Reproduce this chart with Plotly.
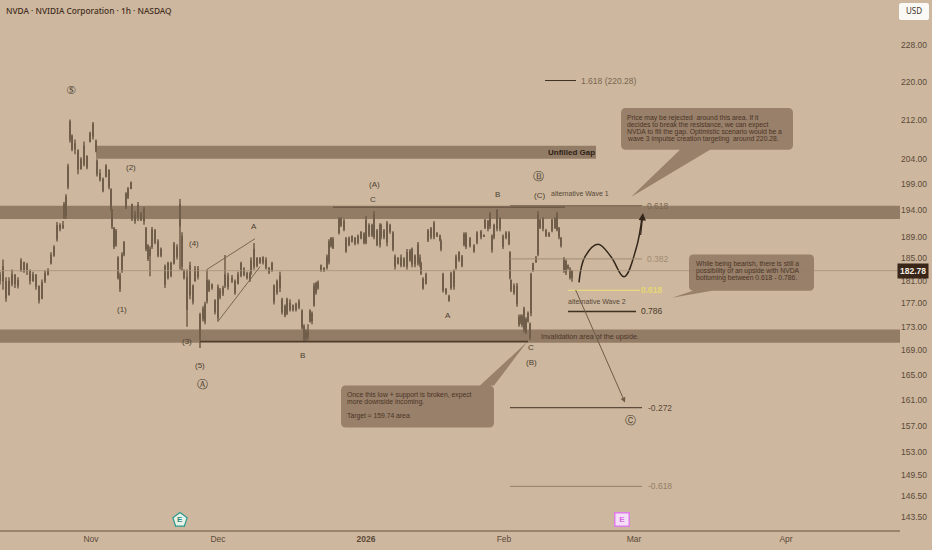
import math
import plotly.graph_objects as go

# NVDA 1h candles. bar_pos is the session position along the time axis
bar_pos = [0, 3, 6, 9, 12, 15, 18, 21, 24, 27, 30, 33, 36, 39, 42, 45, 48, 51, 54, 57, 60, 63, 64, 66, 68, 70, 72, 75, 78, 81,
           84, 87, 90, 93, 96, 97, 100, 103, 106, 109, 111, 112, 114, 116, 118, 120, 122, 124, 126, 128, 131, 132, 135, 138, 141, 144, 146, 148,
           150, 152, 155, 158, 161, 165, 168, 171, 174, 177, 180, 182, 184, 187, 190, 193, 195, 198,
           200, 203, 205, 207, 209, 212, 215, 218, 220, 223, 225, 228, 232, 235, 238, 241, 244, 247, 250, 251, 254, 257, 260, 263, 266, 269, 272,
           274, 277, 280, 282, 285, 287, 290, 293, 296, 299, 302, 304, 306, 308, 310, 312, 314, 316, 318, 321, 324, 327, 329, 331, 333,
           339, 341, 344, 346, 349, 352, 355, 358, 361, 364, 366, 369, 372, 374, 377, 380, 381, 384, 387, 390, 393, 395, 398,
           401, 404, 407, 410, 412, 415, 418, 420, 421, 423, 426, 428, 431, 434, 437, 440, 441, 443, 446, 449, 451, 454, 456, 459, 462, 464, 466,
           470, 474, 477, 481, 484, 485, 488, 490, 492, 494, 497, 500, 503, 506, 509, 510, 511, 514, 517, 519, 521, 522, 524, 526, 528,
           530, 531, 533, 536, 538, 540, 543, 546, 549, 552, 555, 557, 559, 561, 564, 566, 568, 570, 572]
opens = [182, 181, 180.8, 178.5, 180.5, 182, 180.2, 183, 184.2, 183, 182.6, 181, 182, 180, 178, 181, 182.2, 184.2, 185.6, 188.6, 190.5, 191, 192.6, 193, 198.5, 208, 208.5, 206, 205.5, 202,
         203, 204.4, 207.6, 208.6, 207.5, 203.5, 201, 199.9, 200.6, 201.6, 198, 194, 190.5, 187.6, 185, 181.8, 182.8, 185.8, 194.6, 196.6, 198.2, 195, 192, 192.6, 193.2, 192, 190.4, 187.2,
         185.5, 187.2, 190, 188, 185.6, 183.5, 181.6, 184, 184.2, 187, 191, 189, 182.8, 181.5, 178.5, 180, 181, 183,
         171, 174.4, 174, 177.5, 179.4, 180.2, 177.4, 174.6, 178.2, 178.8, 180.2, 181.8, 181.4, 180.8, 180.6, 182, 183, 182.2, 181.2, 182.4, 183.6, 185, 184.2, 185, 184.6, 183.2, 183,
         177.4, 179, 181.8, 177.6, 176.4, 175.4, 177, 176, 176, 176.4, 175.6, 173, 171, 172, 174, 175.2, 176.8, 179, 180.6, 183, 183.2, 183.4, 184.4, 187.4, 188.4,
         189.8, 192.2, 191.8, 188.5, 187.6, 188.2, 188.6, 188, 188.8, 189.4, 188, 191, 189.4, 189, 190, 187.6, 191, 190, 188, 191, 189.6, 185.2, 184.2,
         185, 183.8, 183.6, 186.2, 184, 185.4, 184.2, 185, 184, 181.2, 180.6, 188.4, 190.4, 189, 189.6, 189, 188, 182, 179.4, 178.2, 179.8, 182.6, 183.4, 184.8, 185.2, 187.6, 189.4,
         188.5, 187.2, 188, 189.8, 189.2, 190.8, 191.8, 191, 189, 189, 190.6, 192.2, 189, 188.9, 189.6, 186, 181, 180, 180, 174.6, 173.8, 174.6, 172.6, 174.2, 174,
         173.4, 175.4, 183, 184.4, 185.8, 192, 190.6, 190, 189.2, 190.2, 192.2, 190.4, 190.4, 188.6, 185, 182.6, 183.6, 183, 181.6]
highs = [182.6, 184.8, 181.6, 181.6, 183, 182, 181.6, 185, 184.4, 184.2, 183, 182.6, 182, 180, 181.2, 182.8, 183.2, 186.1, 187.4, 191.7, 191.5, 191.9, 195.5, 197, 203, 212, 208.9, 207.9, 205.9, 204.3,
         207.5, 204.7, 209.5, 211.5, 207.9, 203.9, 201.9, 200.3, 202.9, 201.9, 198, 194.2, 190.8, 190.4, 185.4, 182.4, 186.1, 188.2, 197.4, 198.4, 199.5, 195.2, 193.8, 195.5, 193.6, 194.6, 190.8, 187.6,
         187.2, 190.8, 190.4, 188.5, 187, 183.9, 184.4, 184.4, 188, 187.6, 196.1, 189.8, 183, 183, 184.4, 180.3, 183.6, 183.6,
         175.4, 176.5, 177.3, 183, 181.2, 180.5, 177.7, 180.3, 179.7, 180.1, 185.6, 182.4, 182, 181.2, 182.6, 184.4, 183.4, 182.6, 182.6, 185.2, 187.8, 185.2, 185.2, 185.4, 185.2, 183.4, 184.4,
         180.3, 181.2, 182.6, 178, 176.8, 178, 177.7, 176.8, 177.1, 177.7, 176, 173.4, 172.5, 173.4, 176, 175.6, 180.6, 180.8, 181, 183.9, 183.4, 185.7, 188.5, 188.9, 188.9,
         192.6, 192.6, 192.3, 188.9, 189, 189.2, 188.9, 189.4, 190, 189.8, 192.9, 191.5, 191.4, 193.8, 190.4, 191.5, 191.4, 190.4, 191.9, 191.4, 190, 185.7, 185.2,
         185.7, 185.2, 186.7, 186.7, 187, 185.7, 188, 185.7, 184.4, 181.6, 182.4, 190.4, 190.8, 191.9, 189.8, 189.4, 188.5, 182.4, 179.7, 178.5, 182.6, 183, 185.7, 186.3, 185.6, 189.8, 189.8,
         188.9, 187.6, 190, 190.2, 189.4, 192.3, 192.1, 193.6, 189.4, 191.4, 194.2, 192.6, 189.4, 190, 190, 186.3, 181.2, 180.5, 180.6, 175.1, 175.1, 175.1, 176.4, 174.6, 175.6,
         173.7, 182.4, 184.2, 185.4, 193.8, 192.3, 192.6, 190.4, 189.8, 192.3, 192.6, 193.6, 190.8, 188.9, 185.2, 184.8, 183.9, 183.4, 182.8]
lows = [180.3, 179.4, 177.3, 178.5, 180, 179.7, 179.6, 182.6, 182.4, 182, 180.3, 180.8, 179.4, 177, 177.7, 180.6, 181.9, 183.9, 185.3, 188.1, 190, 190.4, 192.3, 192.3, 198, 207.3, 205.5, 204.9, 200.9, 201.9,
        202.5, 201.9, 207.3, 207.9, 205.3, 200.5, 199.5, 197.4, 200.3, 198, 193.8, 190.4, 186.7, 187.1, 181.2, 179, 182.4, 185.4, 194.2, 196.1, 198, 191.9, 191.4, 191.9, 191.9, 191.2, 186.3, 184.5,
        181.8, 186.7, 187.6, 185.2, 185.2, 179.7, 181.2, 181.6, 183.9, 184.8, 183, 182.8, 181.2, 173, 177.7, 176.8, 180.8, 181.2,
        169.4, 173.9, 173.4, 177, 179, 179.4, 175.1, 173.9, 177.7, 178.3, 179.7, 179.4, 180.6, 178.5, 180.3, 181.6, 181.8, 181.2, 180.8, 182, 183, 183.4, 184, 183.9, 183, 182.2, 182.6,
        176.8, 178.5, 179, 175.1, 174.6, 175, 175.6, 175.6, 175.6, 176, 172.5, 170.5, 170.5, 170.8, 173.7, 173.4, 176.4, 178.5, 179.4, 182.6, 182.6, 183, 183.9, 187, 186.7,
        189.4, 190.8, 190, 186, 187.2, 187.9, 187.4, 187.6, 188.5, 187.6, 187.6, 188.9, 188.9, 188.5, 187.2, 187, 188.5, 188.5, 187.2, 189.5, 186.3, 183, 183.9,
        183.4, 183.4, 183, 184.4, 183.4, 183.4, 183.7, 183.4, 182, 179.4, 180.3, 188, 188.5, 188.5, 188.9, 188.1, 186.3, 178.9, 178.5, 177.3, 179.4, 179.4, 183, 184.4, 183.4, 187.2, 186.7,
        187, 186, 187.6, 188.5, 188.9, 190.4, 190, 190.4, 186, 188.5, 190, 190, 186.7, 188.5, 187.4, 181.2, 179, 178.5, 176.4, 173, 173.4, 172.9, 172, 171.7, 173.7,
        170.8, 174.8, 182.6, 184.2, 185.4, 190.4, 190, 188.9, 188.9, 189.8, 190.4, 190, 188.5, 187, 182.4, 182, 183, 181.2, 180.8]
closes = [181, 183.5, 178, 180.8, 182, 180.5, 181, 184.5, 183, 183.8, 181, 182, 180, 177.6, 180.6, 182.2, 182.8, 185.5, 187, 191, 191, 190.8, 195, 196.5, 202.4, 211.5, 206, 207, 202, 203.8,
          206.5, 202.4, 209, 211, 205.6, 201, 200, 197.8, 202.5, 198.5, 194.2, 191, 187.2, 190, 181.6, 179.6, 185.6, 187.8, 197, 198, 199.2, 192.4, 193, 194.8, 192.2, 194, 186.8, 185,
          186.6, 190.2, 188, 185.6, 186.6, 180.4, 184, 182, 187.6, 185.4, 195, 183.6, 181.6, 176, 183.6, 177.4, 183, 181.8,
          175, 176, 176.8, 181, 180.8, 179.8, 175.6, 179.8, 179.2, 179.6, 182, 180, 181, 179, 182, 184, 182.2, 181.6, 182, 184.6, 186.6, 183.8, 185, 184.4, 183.4, 182.6, 184,
          180, 180.8, 179.8, 175.6, 175, 177.6, 176, 176.6, 176.8, 177.2, 173, 171, 172, 171.4, 175.6, 174, 180, 180.4, 179.8, 183.6, 182.8, 185.2, 188, 188.6, 187,
          192.2, 191.2, 190.4, 186.4, 188.6, 189, 187.8, 189, 189.8, 188, 192, 189.4, 191, 193, 187.6, 191, 189, 189, 191.4, 190, 186.8, 183.6, 185,
          183.8, 184.8, 186, 184.8, 186.6, 184, 187.4, 184, 182.4, 179.8, 182, 190, 189, 191.4, 189.2, 188.4, 186.8, 179.4, 178.9, 177.6, 182.2, 180, 185.2, 186, 183.8, 189.4, 187.2,
          187.4, 186.4, 189.6, 189, 189.1, 192, 190.6, 193.2, 186.6, 191, 193.8, 190.6, 187.2, 189.6, 187.8, 181.6, 179.4, 179, 177, 173.4, 174.8, 173.4, 176, 172.2, 175.2,
          171.2, 182, 184, 185.2, 193, 190.8, 192.2, 189.3, 189.6, 192, 190.8, 193.2, 189, 187.4, 183, 184.4, 183.3, 181.6, 182.78]

# price axis
price_ticks = [228, 220, 212, 204, 199, 194, 189, 185, 181, 177, 173, 169, 165, 161, 157, 153, 149.5, 146.5, 143.5]
last_price = 182.78

# time axis
month_pos = [91, 218, 366, 504, 634, 786]
month_names = ["Nov", "Dec", "<b>2026</b>", "Feb", "Mar", "Apr"]

# drawn zones (from, to, low price, high price)
zones = [(96, 596, 204.0, 206.6), (0, 900, 192.3, 194.8), (0, 900, 170.3, 172.5)]

# fib levels (from, to, price, label, label pos, label colour, line colour, width)
levels = [
    (545, 576, 220.28, "1.618 (220.28)", 581, "#7a6752", "#3f3122", 1),
    (510, 642, 194.8, "0.618", 647, "#7a6752", "#6f5d49", 1),
    (510, 642, 184.9, "0.382", 647, "#a08b74", "#a08c76", 1),
    (568, 640, 179.3, "<b>0.618</b>", 641, "#e3d873", "#ece27c", 1.2),
    (568, 636, 175.6, "0.786", 641, "#4a3a2a", "#3f3122", 1.5),
    (510, 642, 159.8, "-0.272", 648, "#5d4c3b", "#5d4c3b", 1.2),
    (510, 642, 147.9, "-0.618", 648, "#93806a", "#93806a", 1),
]

# elliott wave labels
wave_labels = ["⑤", "(2)", "(1)", "(3)", "(4)", "(5)", "Ⓐ", "A", "B", "(A)", "C", "A", "B", "Ⓑ", "(C)", "C", "(B)", "Ⓒ"]
wave_pos = [71, 131, 122, 187, 194, 200, 202, 254, 302, 374, 373, 448, 497, 538, 539, 531, 531, 630]
wave_price = [218.1, 202.3, 176, 170.5, 187.7, 166.6, 163.4, 190.8, 168.2, 198.9, 196, 174.9, 197, 200.4, 196.7, 169.5, 167, 157.8]

# projected path
path_pos = [579, 585, 598, 611, 624, 636, 642]
path_price = [180.7, 185.3, 187.6, 185.3, 181.7, 186.7, 192.6]

callouts = [
    {"box": (621, 793, 214.4, 205.8), "side": "bottom", "tail": [(680, 205.8), (631, 196.5), (710, 205.8)], "at": (627, 212.3),
     "lines": ["Price may be rejected  around this area. If it",
               "decides to break the resistance, we can expect",
               "NVDA to fill the gap. Optimistic scenario would be a",
               "wave 3 impulse creation targeting  around 220.28."]},
    {"box": (689, 814, 185.7, 179.2), "side": "bottom", "tail": [(693, 179.2), (672, 178), (712, 179.2)], "at": (696, 183.9),
     "lines": ["While being bearish, there is still a",
               "possibility of an upside with NVDA",
               "bottoming between 0.618 - 0.786."]},
    {"box": (341, 494, 163.3, 156.7), "side": "top", "tail": [(480, 163.3), (527, 170.4), (494, 163.3)], "at": (347, 161.8),
     "lines": ["Once this low + support is broken, expect",
               "more downside incoming.",
               "",
               "Target ≈ 159.74 area"]},
]

BG = "#cdb79e"
ZONE = "#937c66"
INK = "#4b3426"
CANDLE = "#705e4a"
FONT = "Liberation Sans"

fig = go.Figure()

fig.add_trace(go.Candlestick(
    x=bar_pos, open=opens, high=highs, low=lows, close=closes,
    increasing=dict(line=dict(color=CANDLE, width=1.5), fillcolor=CANDLE),
    decreasing=dict(line=dict(color=CANDLE, width=1.5), fillcolor=CANDLE),
    whiskerwidth=0, showlegend=False,
))

fig.add_trace(go.Scatter(
    x=path_pos, y=path_price, mode="lines",
    line=dict(color="#33261a", width=1.5, shape="spline", smoothing=1.1),
    showlegend=False,
))


def log_y(price):
    return math.log10(price)


def label(text, x, price, size=8, color=INK, anchor="left", family=FONT, yshift=0):
    fig.add_annotation(x=x, y=log_y(price), text=text, showarrow=False, xanchor=anchor, yanchor="middle",
                       font=dict(size=size, color=color, family=family), yshift=yshift, borderpad=0, borderwidth=0)


def segment(x0, x1, p0, p1, color, width):
    fig.add_shape(type="line", x0=x0, x1=x1, y0=p0, y1=p1, xref="x", yref="y", line=dict(color=color, width=width))


def callout_path(box, side, tail):
    x0, x1, top, bottom = box
    r = 5
    dp = (top - bottom) * r / 40
    path = f"M {x0 + r} {top} "
    if side == "top":
        for px, pp in tail:
            path += f"L {px} {pp} "
    path += f"L {x1 - r} {top} Q {x1} {top} {x1} {top - dp} L {x1} {bottom + dp} Q {x1} {bottom} {x1 - r} {bottom} "
    if side == "bottom":
        for px, pp in reversed(tail):
            path += f"L {px} {pp} "
    path += f"L {x0 + r} {bottom} Q {x0} {bottom} {x0} {bottom + dp} L {x0} {top - dp} Q {x0} {top} {x0 + r} {top} Z"
    return path


for x0, x1, low, high in zones:
    fig.add_shape(type="rect", x0=x0, x1=x1, y0=low, y1=high, xref="x", yref="y",
                  fillcolor=ZONE, line_width=0, layer="below")

# last price line
segment(0, 900, last_price, last_price, "#a8927a", 0.8)

# trend lines
segment(333, 565, 194.5, 194.5, "#6f5b47", 1.5)
segment(200, 528, 170.5, 170.5, "#4e3d2d", 1.5)
segment(207, 255, 183, 188.6, "#7a6752", 1)
segment(218, 260, 173.9, 183.5, "#7a6752", 1)

for x0, x1, price, text, text_x, text_color, line_color, width in levels:
    segment(x0, x1, price, price, line_color, width)
    label(text, text_x, price, size=8.5, color=text_color)

for text, x, price in zip(wave_labels, wave_pos, wave_price):
    circled = text in "⑤ⒶⒷⒸ"
    label(text, x, price, size=11 if circled else 8, color="#4b3f32", anchor="center", family="DejaVu Sans" if circled else FONT)

label("alternative Wave 1", 551, 197.2, size=7, color="#574838")
label("alternative Wave 2", 568, 177.4, size=7, color="#574838")
label("<b>Unfilled Gap</b>", 548, 205.3, size=8, color="#2e2217")
label("Invalidation area of the upside.", 541, 171.3, size=7.2, color="#4b3426")

for c in callouts:
    fig.add_shape(type="path", path=callout_path(c["box"], c["side"], c["tail"]), xref="x", yref="y",
                  fillcolor=ZONE, line_width=0, layer="above", opacity=0.93)
    for i, line in enumerate(c["lines"]):
        if line:
            label(line, c["at"][0], c["at"][1], size=6.8, color=INK, yshift=-7 * i)

# arrows
fig.add_annotation(x=643, y=log_y(193.4), ax=640.5, ay=log_y(189), xref="x", yref="y", axref="x", ayref="y", text="",
                   arrowhead=2, arrowsize=1.2, arrowwidth=1.2, arrowcolor="#33261a")
fig.add_annotation(x=625, y=log_y(160.6), ax=575, ay=log_y(179.6), xref="x", yref="y", axref="x", ayref="y", text="",
                   arrowhead=2, arrowsize=1, arrowwidth=1, arrowcolor="#6e5c48")

# earnings badges
fig.add_trace(go.Scatter(x=[180], y=[143.1], mode="markers", showlegend=False,
                         marker=dict(symbol="pentagon", size=15, color="#eaf2e8", line=dict(color="#2b9a8c", width=1.2))))
fig.add_annotation(x=180, y=log_y(143.1), text="<b>E</b>", showarrow=False, font=dict(size=8, color="#2b8c7e", family=FONT))
fig.add_annotation(x=622, y=log_y(143.1), text="<b> E </b>", showarrow=False, bgcolor="#f4dff7", bordercolor="#de7ce8",
                   borderwidth=1.5, borderpad=1.5, font=dict(size=8, color="#d868e4", family=FONT))

# title, USD button and last price tag
fig.add_annotation(x=4 / 900, y=1 - 11 / 530, xref="paper", yref="paper", text="NVDA · NVIDIA Corporation · 1h · NASDAQ",
                   showarrow=False, xanchor="left", yanchor="middle", font=dict(size=8.3, color="#3f2c1c", family="Noto Sans", weight=500))
fig.add_shape(type="path", xref="paper", yref="paper", fillcolor="#fbf9f6", line_width=0,
              path="M 1.0022 0.9943 Q 0.9989 0.9943 0.9989 0.9905 L 0.9989 0.9661 Q 0.9989 0.9623 1.0022 0.9623 "
                   "L 1.0300 0.9623 Q 1.0322 0.9623 1.0322 0.9661 L 1.0322 0.9905 Q 1.0322 0.9943 1.0300 0.9943 Z")
fig.add_annotation(x=914 / 900, y=1 - 11 / 530, xref="paper", yref="paper", text="USD", showarrow=False, xanchor="center", yanchor="middle",
                   font=dict(size=8, color="#3e3226", family="Noto Sans"))
fig.add_annotation(x=913 / 900, xref="paper", y=log_y(last_price), text=f"<b>{last_price:.2f}</b>", showarrow=False, xanchor="center",
                   bgcolor="#3a2618", borderpad=2, font=dict(size=8.5, color="#f3ece2", family=FONT))

fig.update_layout(
    width=932, height=550,
    margin=dict(l=0, r=32, t=0, b=20),
    paper_bgcolor=BG, plot_bgcolor=BG,
    showlegend=False,
    xaxis=dict(range=[0, 900], rangeslider=dict(visible=False), showgrid=False, zeroline=False,
               tickmode="array", tickvals=month_pos, ticktext=month_names, ticks="",
               showline=True, linecolor="#9a846c", linewidth=2,
               tickfont=dict(size=8.5, color="#5b4a39", family=FONT)),
    yaxis=dict(type="log", side="right", range=[log_y(141.7), log_y(238.4)], showgrid=False, zeroline=False,
               tickmode="array", tickvals=price_ticks, ticktext=[f"{p:.2f}" for p in price_ticks], ticks="",
               tickfont=dict(size=8.5, color="#5b4a39", family=FONT)),
)

fig.write_html("out.html", config={"displayModeBar": False},
               post_script="document.body.style.margin='0';document.body.style.background='#cdb79e';")
